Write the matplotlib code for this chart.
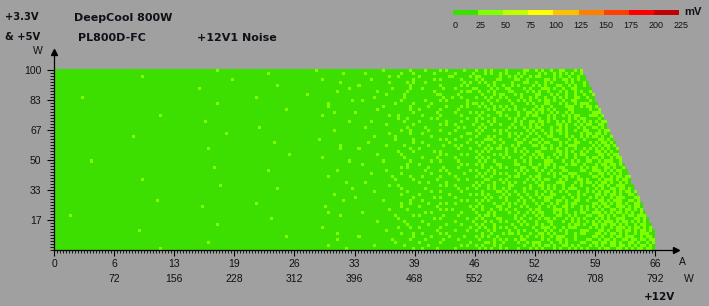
import numpy as np
import matplotlib
matplotlib.use("Agg")
import matplotlib.pyplot as plt
import matplotlib.transforms as mtransforms
from matplotlib.colors import ListedColormap, BoundaryNorm
from matplotlib.cm import ScalarMappable
from matplotlib.ticker import FixedLocator

# ------------------------------------------------------------------ data
legend_bounds_mV = [0, 25, 50, 75, 100, 125, 150, 175, 200, 225]
legend_colors = ["#3ddf00", "#80ff00", "#c0ff00", "#ffff00", "#ffc000",
                 "#ff8000", "#ff4000", "#ff0000", "#c00000"]

amp_ticks = [0, 6.6, 13.2, 19.8, 26.4, 33.0, 39.6, 46.2, 52.8, 59.4, 66.0]
amp_labels = ["0", "6", "13", "19", "26", "33", "39", "46", "52", "59", "66"]
watt_labels = ["", "72", "156", "228", "312", "396", "468", "552", "624", "708", "792"]

w_ticks = [16.67, 33.33, 50.0, 66.67, 83.33, 100.0]
w_labels = ["17", "33", "50", "67", "83", "100"]

load_step_A = 0.33        # +12V current per column
load_step_W = 100 / 60    # +3.3V & +5V load per row

# noise band per measured point (bit 0: 0-25 mV, bit 1: 25-50 mV),
# rows from 100 W (top) down to 0 W, 4 load steps per hex digit
noise_rows_hex = [
    "00000 00000 00020 00000 01000 00402 10a08 9420c a4c52 b5a4d",
    "00000 00000 00000 00100 00008 10011 02041 14a28 52a94 a5c9a",
    "00000 00400 00000 00000 00000 00120 40182 c0952 c2925 59a6c",
    "00000 00000 00001 00000 00400 04001 02810 a1864 1a6a4 6a5b4",
    "00000 00000 00000 00000 00010 00105 1000a 5208c 9428b d4a59",
    "00000 00000 00000 00020 00000 40002 00814 0a4a1 5194a 5b6a2",
    "00000 00000 00800 00000 00002 00082 20441 8530a 3a4c1 9a5c6",
    "00000 00000 00000 00000 00020 01004 02016 4a185 48a53 a6d52",
    "00000 00000 00000 00000 08000 00208 01820 22c50 c5249 e5a49",
    "00400 00000 00000 01000 00000 02008 00490 94a12 92a64 5a9b4",
    "00000 00000 00000 00000 00001 20010 10a04 0912a 5a4c2 b49a6",
    "00000 00000 00020 00000 00100 00041 04005 a4085 18a5c 6d5a2",
    "00000 00000 00000 00000 00100 00402 08214 52a40 a4396 a59c5",
    "00000 00000 00000 00004 00000 01002 40820 0a549 6a182 4b6a9",
    "00000 00000 00000 00000 00040 80001 01042 a1826 a5281 d5a36",
    "00000 00010 00000 00000 00400 00120 20810 48a25 8a563 a6b49",
    "00000 00000 00000 00000 00000 00024 05004 a2148 4a158 59c6a",
    "00000 00000 00200 00000 00002 04008 40210 8a053 6952a b2d5a",
    "00000 00000 00000 00000 00000 00201 00a41 24892 a1a56 6a5d4",
    "00000 00000 00000 00800 00000 10004 10028 5014a c4a29 a9c56",
    "00000 00000 00000 00000 00040 00012 08840 a2a05 25a4c 5b4a6",
    "00000 00000 00004 00000 00000 00102 20106 40952 94a16 d6a59",
    "00000 02000 00000 00000 00000 02040 04010 8a124 4c295 a5b6c",
    "00000 00000 00000 00000 00800 00041 00a42 1c849 a3148 69a5d",
    "00000 00000 00000 00040 00000 08001 20104 a2432 58a62 b5c92",
    "00000 00000 00000 00000 00010 00208 08450 488a1 a49c1 5a6d4",
    "00000 00000 00100 00000 00010 40002 40022 15a48 3524a a96b5",
    "00000 00000 00000 00000 00000 00021 02800 a8254 c1a94 d4a6a",
    "00000 00000 00000 00002 00000 01010 00a14 42a09 62a58 6b59a",
    "00000 00000 00000 00000 00400 00008 21040 a8512 a9245 a5d69",
    "00080 00000 00000 00000 00002 00402 04820 5204a 1c4a6 5c9a6",
    "00000 00000 00000 00000 00000 20004 40014 a1862 5a2c8 b6a4d",
    "00000 00000 00040 00000 00000 00014 08420 24a19 92c15 9a5b6",
    "00000 00000 00000 00100 00020 00200 10a02 8a054 a4619 d59a4",
    "00000 00000 00000 00000 00000 04010 04108 52a28 4a9c2 6a9c5",
    "00000 00000 00000 00000 00100 00082 20840 a4162 c26a1 a5b69",
    "00000 00400 00000 00000 00000 00041 01024 18a05 58a34 5d6a9",
    "00000 00000 00000 00000 00004 10000 48200 a2548 a1c56 b4a5e",
    "00000 00000 00010 00000 00000 00120 00a41 4a182 6a491 69c5a",
    "00000 00000 00000 00020 00001 00010 10024 8a50a 2a5c4 a6d59",
    "00000 00000 00000 00000 00000 02004 04810 21a48 94a25 5ab64",
    "00000 00000 00000 00000 00040 00010 40102 a8524 a6128 d69a5",
    "00000 00000 00000 00000 00000 80001 02840 14a12 5c4a2 a5c6b",
    "00000 00020 00000 00000 00008 00402 20014 a8229 19a64 6b9a5",
    "00000 00000 00000 01000 00000 00012 08a40 42548 a52c1 b5a69",
    "00000 00000 00400 00000 00200 00010 41002 a1914 4a695 59d6a",
    "00000 00000 00000 00000 00000 00104 00a81 24a42 c3a14 a6b5c",
    "00000 00000 00000 00000 00100 20000 14010 8a125 62a59 d5a96",
    "04000 00000 00000 00000 00010 00041 40420 5a048 a1946 6a5bd",
    "00000 00000 00000 00080 00000 00020 02804 a1852 5a2a8 a9c6b",
    "00000 00000 00000 00000 00000 01008 20041 14a28 8c4a5 5d6a9",
    "00000 00000 00020 00000 00000 00004 08210 a2094 a4169 b6a59",
    "00000 00000 00000 00000 00400 00022 40802 52a41 3a5c2 a5d6a",
    "00000 00800 00000 00000 00000 00200 01044 8a128 94a1c 69b5a",
    "00000 00000 00000 00000 00020 00011 20a00 245a2 6a258 d6a5c",
    "00000 00000 00000 00004 00000 40001 04108 a9014 a5c41 a5b96",
    "00000 00000 00000 00000 00020 00082 10420 42a58 29a46 5a6db",
    "00000 00000 00100 00000 00000 00040 40802 1a425 c4a19 b69a5",
    "00000 00000 00000 00000 00100 02008 08014 a2809 5a6a2 a6d5a",
    "00000 00010 00000 00000 00004 00001 21040 54a22 a2954 59ab6",
]

# number of measured +12V load steps on each row (top to bottom)
row_steps = [176, 176, 177, 177, 178, 178, 179, 179, 180, 180,
             180, 181, 181, 182, 182, 183, 183, 184, 184, 184,
             185, 185, 186, 186, 187, 187, 188, 188, 188, 189,
             189, 190, 190, 191, 191, 192, 192, 192, 193, 193,
             194, 194, 195, 195, 196, 196, 196, 197, 197, 198,
             198, 199, 199, 200, 200, 200, 200, 200, 200, 200]

# ------------------------------------------------------------------ build
bits = np.array([[int(b) for ch in row.replace(" ", "") for b in f"{int(ch, 16):04b}"]
                 for row in noise_rows_hex])
noise_mV = np.array(legend_bounds_mV, dtype=float)[bits]
cols = np.arange(bits.shape[1])
mask = cols[None, :] >= np.array(row_steps)[:, None]
grid = np.ma.masked_array(noise_mV, mask)

cmap = ListedColormap(legend_colors)
cmap.set_bad((0, 0, 0, 0))
norm = BoundaryNorm(legend_bounds_mV, cmap.N)

bg = "#a0a0a0"
txt = "#101018"
W, H = 709, 306

fig = plt.figure(figsize=(W / 100, H / 100), dpi=100, facecolor=bg)
ax = fig.add_axes([54 / W, 56 / H, 622 / W, 198 / H], facecolor=bg)

x_max = load_step_A * bits.shape[1]
y_max = load_step_W * bits.shape[0]
ax.imshow(grid, cmap=cmap, norm=norm, extent=(0, x_max, 0, y_max),
          origin="upper", aspect="auto", interpolation="nearest")
ax.set_xlim(0, 66 * 622 / 601)
ax.set_ylim(0, 110)

for s in ("top", "right"):
    ax.spines[s].set_visible(False)
for s in ("left", "bottom"):
    ax.spines[s].set_color("black")
    ax.spines[s].set_linewidth(0.9)

ax.plot([1], [0], marker=">", color="black", ms=4, transform=ax.transAxes, clip_on=False)
ax.plot([0], [1], marker="^", color="black", ms=4, transform=ax.transAxes, clip_on=False)

tick_font = {"family": "Liberation Sans", "size": 7.5}
ax.set_xticks(amp_ticks)
ax.set_xticklabels(amp_labels, fontdict=tick_font, color=txt)
ax.xaxis.set_minor_locator(FixedLocator(np.arange(0, 66.001, load_step_A)))
ax.set_yticks(w_ticks)
ax.set_yticklabels(w_labels, fontdict=tick_font, color=txt)
ax.yaxis.set_minor_locator(FixedLocator(np.arange(0, 100.001, load_step_W)))

ax.tick_params(axis="x", which="major", length=4, width=0.8, pad=2.5, direction="out")
ax.tick_params(axis="x", which="minor", length=2.5, width=0.6, direction="out")
ax.tick_params(axis="y", which="major", length=5, width=0.8, pad=4, direction="out")
ax.tick_params(axis="y", which="minor", length=3, width=0.6, direction="out")

wt = mtransforms.blended_transform_factory(ax.transData, fig.transFigure)
for x, lab in zip(amp_ticks, watt_labels):
    if lab:
        ax.text(x, 1 - 279 / H, lab, transform=wt, ha="center", va="center",
                color=txt, **tick_font)

def ftext(x, y, s, **kw):
    fig.text(x / W, 1 - y / H, s, va="center", color=txt, **kw)

bold = {"family": "DejaVu Sans", "weight": "bold"}
ftext(5, 17, "+3.3V", size=7.2, **bold)
ftext(5, 37, "& +5V", size=7.2, **bold)
ftext(74, 18, "DeepCool 800W", size=8, **bold)
ftext(78, 38, "PL800D-FC", size=8, **bold)
ftext(197, 38, "+12V1 Noise", size=8, **bold)
ftext(644, 297, "+12V", size=7.5, **bold)
ftext(38, 51, "W", ha="center", family="Liberation Sans", size=7.5)
ftext(682, 262, "A", ha="center", family="Liberation Sans", size=7.5)
ftext(689, 279, "W", ha="center", family="Liberation Sans", size=7.5)

# legend bar
cax = fig.add_axes([453 / W, 1 - 15 / H, 226 / W, 5 / H])
cb = fig.colorbar(ScalarMappable(norm=norm, cmap=cmap), cax=cax,
                  orientation="horizontal", ticks=legend_bounds_mV)
cb.outline.set_visible(False)
cax.tick_params(length=0, labelbottom=False)
lt = mtransforms.blended_transform_factory(cax.transData, fig.transFigure) + \
    mtransforms.ScaledTranslation(2.5 / 100, 0, fig.dpi_scale_trans)
for b in legend_bounds_mV:
    cax.text(b, 1 - 25 / H, str(b), transform=lt, ha="center", va="center",
             color=txt, family="Liberation Sans", size=6.5)
ftext(684, 12, "mV", family="Liberation Sans", weight="bold", size=8)

fig.savefig("out.png", dpi=100, facecolor=bg)
